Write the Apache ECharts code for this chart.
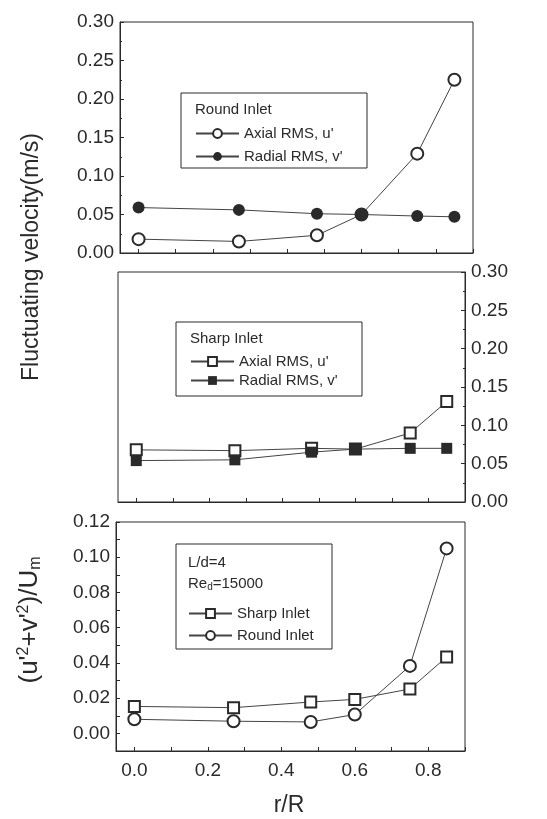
<!DOCTYPE html>
<html>
<head>
<meta charset="utf-8">
<script src="https://cdn.jsdelivr.net/npm/echarts@6/dist/echarts.min.js"></script>
<style>
  html, body { margin: 0; padding: 0; background: #fff; }
  #chart { width: 547px; height: 819px; }
</style>
</head>
<body>
<div id="chart"></div>
<script>
  // r/R positions shared by all three panels
  let rR = [0.0, 0.27, 0.48, 0.6, 0.75, 0.85]

  // top panel: round inlet
  let roundAxial = [0.018, 0.015, 0.023, 0.050, 0.129, 0.225]
  let roundRadial = [0.059, 0.056, 0.051, 0.050, 0.048, 0.047]

  // middle panel: sharp inlet
  let sharpAxial = [0.068, 0.067, 0.070, 0.069, 0.090, 0.131]
  let sharpRadial = [0.054, 0.055, 0.065, 0.069, 0.070, 0.070]

  // bottom panel: (u'^2+v'^2)/Um
  let sharpSum = [0.0153, 0.0146, 0.0178, 0.0193, 0.0252, 0.0434]
  let roundSum = [0.0080, 0.0069, 0.0065, 0.0107, 0.0383, 0.1050]

  let xTicks = [0, 0.1, 0.2, 0.3, 0.4, 0.5, 0.6, 0.7, 0.8, 0.9]
  let xLabels = [0, 0.2, 0.4, 0.6, 0.8]
  let sumTicks = [-0.01, 0, 0.01, 0.02, 0.03, 0.04, 0.05, 0.06, 0.07, 0.08, 0.09, 0.1, 0.11, 0.12]
  let sumLabels = [0, 0.02, 0.04, 0.06, 0.08, 0.1, 0.12]

  let legendNames = {
    roundAxial: "Axial RMS, u'",
    roundRadial: "Radial RMS, v'",
    sharpAxial: "Axial RMS, u'",
    sharpRadial: "Radial RMS, v'",
    sharpSum: 'Sharp Inlet',
    roundSum: 'Round Inlet'
  }

  const ink = '#2a2a2a'
  const font = 'Liberation Sans, Arial, sans-serif'

  let pairs = (ys) => rR.map((x, i) => [x, ys[i]])

  let xAxisDef = (grid, showLabel) => ({
    type: 'value',
    gridIndex: grid,
    min: -0.05,
    max: 0.9,
    splitLine: { show: false },
    axisLine: { show: true, onZero: false, lineStyle: { color: ink, width: 1 } },
    axisTick: { show: true, inside: true, length: 4, customValues: xTicks, lineStyle: { color: ink } },
    axisLabel: {
      show: showLabel,
      customValues: xLabels,
      color: ink,
      fontSize: 19,
      fontFamily: font,
      margin: 10,
      formatter: (v) => v.toFixed(1)
    }
  })

  let velAxis = (grid, pos) => ({
    type: 'value',
    gridIndex: grid,
    position: pos,
    min: 0,
    max: 0.3,
    interval: 0.05,
    splitLine: { show: false },
    axisLine: { show: true, onZero: false, lineStyle: { color: ink, width: 1 } },
    axisTick: { show: true, inside: true, length: 4, lineStyle: { color: ink } },
    minorTick: { show: true, splitNumber: 2, length: 2, lineStyle: { color: ink } },
    axisLabel: {
      color: ink,
      fontSize: 19,
      fontFamily: font,
      margin: 6,
      formatter: (v) => v.toFixed(2)
    }
  })

  let lineSeries = (name, data, x, y, symbol, size) => ({
    name: name,
    type: 'line',
    xAxisIndex: x,
    yAxisIndex: y,
    data: data,
    symbol: symbol,
    symbolSize: size,
    showAllSymbol: true,
    lineStyle: { color: '#444', width: 1 },
    itemStyle: { color: ink, borderWidth: 1.2 },
    z: 3
  })

  let legendDef = (names, left, top, gap) => ({
    orient: 'vertical',
    left: left,
    top: top,
    padding: 0,
    data: names,
    itemWidth: 43,
    itemHeight: 11,
    itemGap: gap,
    selectedMode: false,
    textStyle: { color: ink, fontSize: 15, fontFamily: font },
    formatter: (n) => legendNames[n]
  })

  let chart = echarts.init(document.getElementById('chart'))
  let option = {
    backgroundColor: '#fff',
    animation: false,
    grid: [
      { left: 120, right: 74, top: 22, height: 231, show: true, borderColor: ink, borderWidth: 1 },
      { left: 118, right: 82, top: 272, height: 230, show: true, borderColor: ink, borderWidth: 1 },
      { left: 116, right: 82, top: 522, height: 229, show: true, borderColor: ink, borderWidth: 1 }
    ],
    xAxis: [xAxisDef(0, false), xAxisDef(1, false), xAxisDef(2, true)],
    yAxis: [
      velAxis(0, 'left'),
      velAxis(1, 'right'),
      {
        type: 'value',
        gridIndex: 2,
        min: -0.01,
        max: 0.12,
        splitLine: { show: false },
        axisLine: { show: true, onZero: false, lineStyle: { color: ink, width: 1 } },
        axisTick: { show: true, inside: true, length: 4, customValues: sumTicks, lineStyle: { color: ink } },
        axisLabel: {
          customValues: sumLabels,
          color: ink,
          fontSize: 19,
          fontFamily: font,
          margin: 6,
          formatter: (v) => v.toFixed(2)
        }
      }
    ],
    legend: [
      legendDef(['roundAxial', 'roundRadial'], 195, 126, 8),
      legendDef(['sharpAxial', 'sharpRadial'], 190, 354, 4),
      legendDef(['sharpSum', 'roundSum'], 188, 606, 7)
    ],
    series: [
      lineSeries('roundAxial', pairs(roundAxial), 0, 0, 'emptyCircle', 12),
      lineSeries('roundRadial', pairs(roundRadial), 0, 0, 'circle', 12),
      lineSeries('sharpAxial', pairs(sharpAxial), 1, 1, 'emptyRect', 11),
      lineSeries('sharpRadial', pairs(sharpRadial), 1, 1, 'rect', 11),
      lineSeries('sharpSum', pairs(sharpSum), 2, 2, 'emptyRect', 11),
      lineSeries('roundSum', pairs(roundSum), 2, 2, 'emptyCircle', 12)
    ],
    graphic: [
      // legend frames and headers
      { type: 'rect', shape: { x: 181, y: 93, width: 186, height: 75 }, style: { fill: 'none', stroke: ink, lineWidth: 1 }, z: 1 },
      { type: 'text', x: 195, y: 102, style: { text: 'Round Inlet', font: '15px ' + font, fill: ink } },
      { type: 'rect', shape: { x: 176, y: 322, width: 186, height: 74 }, style: { fill: 'none', stroke: ink, lineWidth: 1 }, z: 1 },
      { type: 'text', x: 190, y: 331, style: { text: 'Sharp Inlet', font: '15px ' + font, fill: ink } },
      { type: 'rect', shape: { x: 176, y: 544, width: 156, height: 105 }, style: { fill: 'none', stroke: ink, lineWidth: 1 }, z: 1 },
      { type: 'text', x: 188, y: 555, style: { text: 'L/d=4', font: '15px ' + font, fill: ink } },
      {
        type: 'text', x: 188, y: 576,
        style: {
          text: 'Re{sub|d}=15000',
          font: '15px ' + font,
          fill: ink,
          rich: { sub: { fontSize: 10, fontFamily: font, fill: ink, verticalAlign: 'bottom', padding: [6, 0, 0, 0] } }
        }
      },
      // axis titles
      {
        type: 'text', x: 32, y: 257, rotation: Math.PI / 2,
        style: { text: 'Fluctuating velocity(m/s)', font: '23px ' + font, fill: ink, align: 'center', verticalAlign: 'middle' }
      },
      {
        type: 'text', x: 30, y: 620, rotation: Math.PI / 2,
        style: {
          text: "(u'{sup|2}+v'{sup|2})/U{sub|m}",
          font: '26px ' + font,
          fill: ink,
          align: 'center',
          verticalAlign: 'middle',
          rich: {
            sup: { fontSize: 16, fontFamily: font, fill: ink, padding: [0, 0, 12, 0] },
            sub: { fontSize: 16, fontFamily: font, fill: ink, padding: [12, 0, 0, 0] }
          }
        }
      },
      {
        type: 'text', x: 289, y: 806,
        style: { text: 'r/R', font: '23px ' + font, fill: ink, align: 'center', verticalAlign: 'middle' }
      }
    ]
  }
  chart.setOption(option)
</script>
</body>
</html>
